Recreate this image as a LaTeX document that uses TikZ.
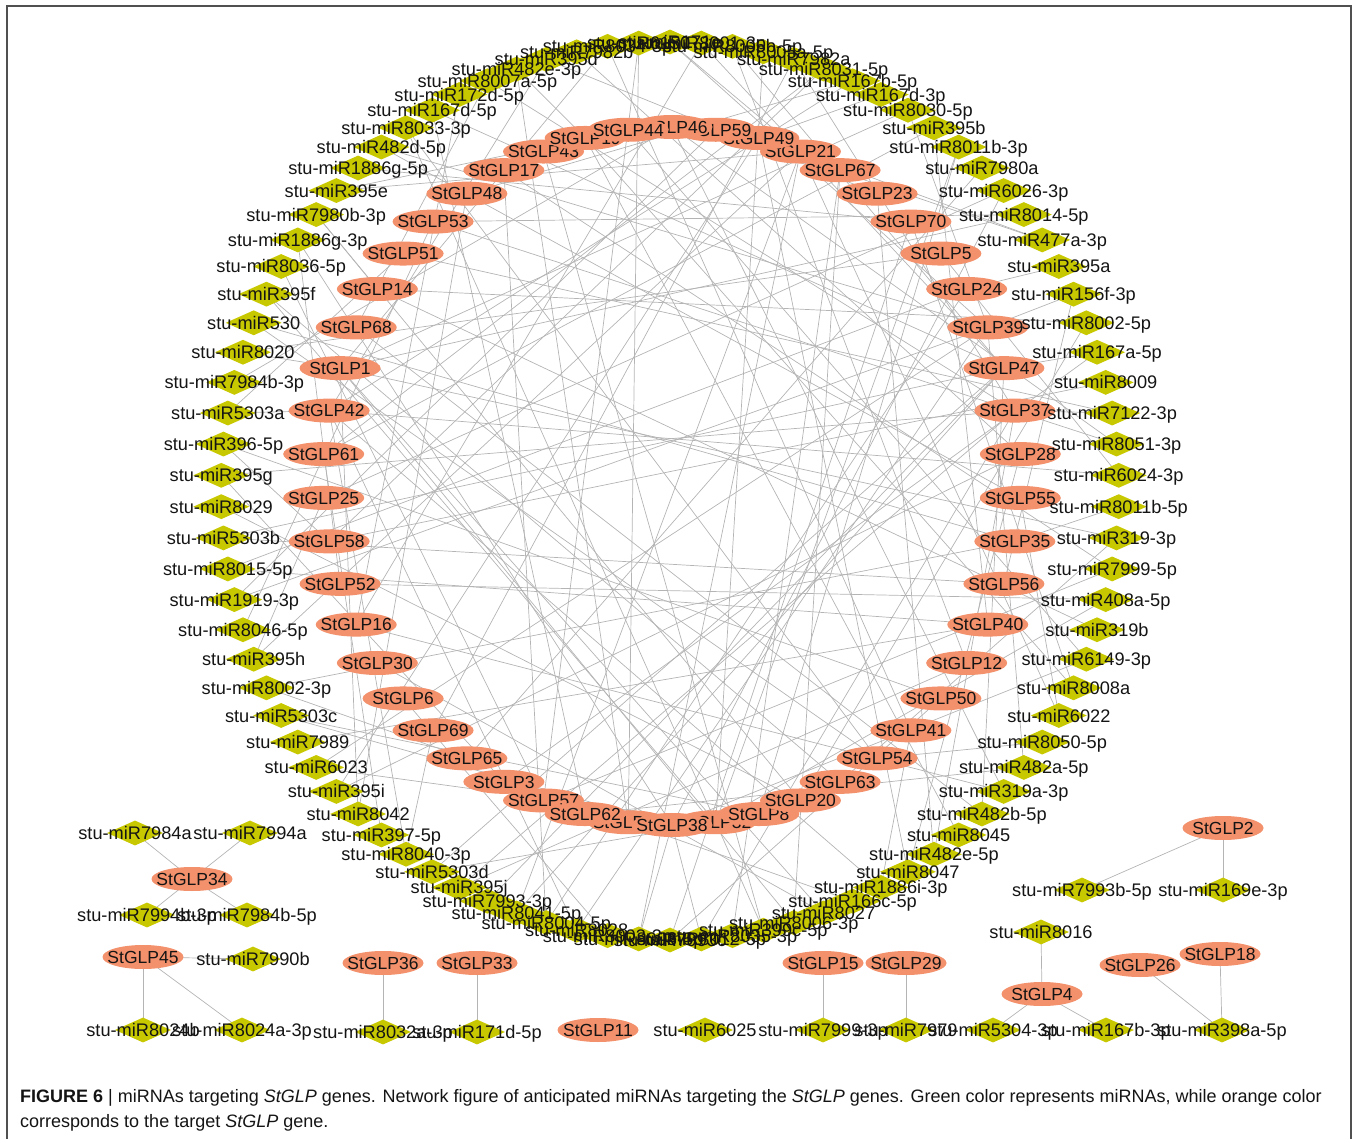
\documentclass[tikz,border=0pt]{standalone}
\usepackage{fontspec}
\setmainfont{Liberation Sans}
\usetikzlibrary{shapes.geometric}
\pgfdeclarelayer{bg}
\pgfsetlayers{bg,main}
\definecolor{mirc}{RGB}{200,200,0}
\definecolor{glpc}{RGB}{243,145,108}
\definecolor{edgec}{RGB}{180,180,180}
\definecolor{framec}{RGB}{80,80,80}
\definecolor{txtc}{RGB}{20,20,20}
\newcommand\glpname[1]{\makebox[0pt]{StGLP#1}}
\tikzset{
  glp/.style={ellipse, fill=glpc, draw=none, minimum width=81pt, minimum height=24pt,
    inner sep=0pt, outer sep=0pt, text height=12.6pt, text depth=0pt, text=txtc,
    font=\fontsize{17.5}{18}\selectfont},
  mir/.style={diamond, fill=mirc, draw=none, minimum width=56pt, minimum height=25pt, inner sep=0pt},
  mirlab/.style={inner sep=0pt, text height=13pt, text depth=0pt, text=txtc,
    font=\fontsize{18.2}{19}\selectfont},
  link/.style={draw=edgec, line width=0.7pt},
  captext/.style={anchor=base west, inner sep=0pt, text=txtc, font=\fontsize{18}{20}\selectfont}
}
\def\glplist{3/21, 2/49, 1/59, 0/46, 4/67, 5/23, 6/70, 7/5, 8/24, 9/39, 10/47, 11/37, 12/28, 13/55, 14/35, 15/56, 16/40, 17/12, 18/50, 19/41, 20/54, 21/63, 24/32, 23/8, 22/20, 26/64, 28/57, 27/62, 25/38, 29/3, 30/65, 31/69, 32/6, 33/30, 34/16, 35/52, 36/58, 37/25, 38/61, 39/42, 40/1, 41/68, 42/14, 43/51, 44/53, 45/48, 46/17, 47/43, 48/19, 49/44}
\def\mirlist{0/stu-miR171e, 1/stu-miR8001-3p, 2/stu-miR8005b-5p, 3/stu-miR8005a-5p, 4/stu-miR7982a, 5/stu-miR8031-5p, 6/stu-miR167b-5p, 7/stu-miR167d-3p, 8/stu-miR8030-5p, 9/stu-miR395b, 10/stu-miR8011b-3p, 11/stu-miR7980a, 12/stu-miR6026-3p, 13/stu-miR8014-5p, 14/stu-miR477a-3p, 15/stu-miR395a, 16/stu-miR156f-3p, 17/stu-miR8002-5p, 18/stu-miR167a-5p, 19/stu-miR8009, 20/stu-miR7122-3p, 21/stu-miR8051-3p, 22/stu-miR6024-3p, 23/stu-miR8011b-5p, 24/stu-miR319-3p, 25/stu-miR7999-5p, 26/stu-miR408a-5p, 27/stu-miR319b, 28/stu-miR6149-3p, 29/stu-miR8008a, 30/stu-miR6022, 31/stu-miR8050-5p, 32/stu-miR482a-5p, 33/stu-miR319a-3p, 34/stu-miR482b-5p, 35/stu-miR8045, 36/stu-miR482e-5p, 37/stu-miR8047, 38/stu-miR1886i-3p, 39/stu-miR166c-5p, 40/stu-miR8027, 41/stu-miR8006-3p, 42/stu-miR399c-5p, 43/stu-miR8035-3p, 44/stu-miR8012-5p, 45/stu-miR7993c, 46/stu-miR8003-5p, 47/stu-miR8003-3p, 48/stu-miR8028, 49/stu-miR8004-5p, 50/stu-miR8041-5p, 51/stu-miR7993-3p, 52/stu-miR395j, 53/stu-miR5303d, 54/stu-miR8040-3p, 55/stu-miR397-5p, 56/stu-miR8042, 57/stu-miR395i, 58/stu-miR6023, 59/stu-miR7989, 60/stu-miR5303c, 61/stu-miR8002-3p, 62/stu-miR395h, 63/stu-miR8046-5p, 64/stu-miR1919-3p, 65/stu-miR8015-5p, 66/stu-miR5303b, 67/stu-miR8029, 68/stu-miR395g, 69/stu-miR396-5p, 70/stu-miR5303a, 71/stu-miR7984b-3p, 72/stu-miR8020, 73/stu-miR530, 74/stu-miR395f, 75/stu-miR8036-5p, 76/stu-miR1886g-3p, 77/stu-miR7980b-3p, 78/stu-miR395e, 79/stu-miR1886g-5p, 80/stu-miR482d-5p, 81/stu-miR8033-3p, 82/stu-miR167d-5p, 83/stu-miR172d-5p, 84/stu-miR8007a-5p, 85/stu-miR482e-3p, 86/stu-miR395d, 87/stu-miR7982b, 88/stu-miR8034-3p, 89/stu-miR6150}
\def\smalllist{b1/135/833/stu-miR7984a, b2/250/833/stu-miR7994a, b3/147/915/stu-miR7994b-3p, b4/247/915/stu-miR7984b-5p, b5/253/959/stu-miR7990b, b6/143/1030/stu-miR8024b, b7/242/1030/stu-miR8024a-3p, b8/383/1032/stu-miR8032a-3p, b9/477/1032/stu-miR171d-5p, b10/705/1030/stu-miR6025, b11/823/1030/stu-miR7999-3p, b12/906/1030/stu-miR7979, b13/1041/932/stu-miR8016, b14/993/1030/stu-miR5304-3p, b15/1106/1030/stu-miR167b-3p, b16/1222/1030/stu-miR398a-5p, b17/1082/890/stu-miR7993b-5p, b18/1223/890/stu-miR169e-3p}
\begin{document}
\begin{tikzpicture}[x=1pt,y=-1pt]
\useasboundingbox (0,0) rectangle (1358,1139);
\draw[framec, line width=1.2pt] (7,1139) -- (7,6) -- (1351,6) -- (1351,1139);

% inner ring of StGLP genes
\foreach \k/\n in \glplist {
  \node[glp] (g\k) at ({672+349*sin(\k*7.2)},{476-349*cos(\k*7.2)}) {\glpname{\n}};
}
% separate StGLP genes
\node[glp] (G34) at (192,879) {\glpname{34}};
\node[glp] (G45) at (143,957) {\glpname{45}};
\node[glp] (G36) at (383,963) {\glpname{36}};
\node[glp] (G33) at (477,963) {\glpname{33}};
\node[glp] (G11) at (598,1030) {\glpname{11}};
\node[glp] (G15) at (823,963) {\glpname{15}};
\node[glp] (G29) at (906,963) {\glpname{29}};
\node[glp] (G4) at (1042,994) {\glpname{4}};
\node[glp] (G26) at (1140,965) {\glpname{26}};
\node[glp] (G18) at (1220,954) {\glpname{18}};
\node[glp] (G2) at (1223,828) {\glpname{2}};

% outer ring of miRNAs
\foreach \i/\n in \mirlist {
  \node[mir] (m\i) at ({670+449*sin(\i*4)},{491-449*cos(\i*4)}) {};
}
\foreach \b/\x/\y/\n in \smalllist {
  \node[mir] (\b) at (\x,\y) {};
}
\foreach \i/\n in \mirlist {
  \node[mirlab] (ml\i) at (m\i.center) {\n};
}
\foreach \b/\x/\y/\n in \smalllist {
  \node[mirlab] (\b l) at (\b.center) {\n};
}

% connectors
\begin{pgfonlayer}{bg}
\foreach \i in {0,...,89} {
  \pgfmathtruncatemacro\ja{mod(7*\i+3,50)}
  \draw[link] (m\i.center) -- (g\ja.center);
  \pgfmathtruncatemacro\rr{mod(\i,2)}
  \ifnum\rr=0
    \pgfmathtruncatemacro\hh{mod(\i/2,8)}
    \edef\jb{\ifcase\hh\space 9\or 10\or 11\or 39\or 40\or 24\or 25\or 3\fi}
    \draw[link] (m\i.center) -- (g\jb.center);
  \fi
  \pgfmathtruncatemacro\qq{mod(\i,4)}
  \ifnum\qq=1
    \pgfmathtruncatemacro\jc{mod(13*\i+21,50)}
    \draw[link] (m\i.center) -- (g\jc.center);
  \fi
}
\draw[link] (b1.center) -- (G34.center);
\draw[link] (b2.center) -- (G34.center);
\draw[link] (b3.center) -- (G34.center);
\draw[link] (b4.center) -- (G34.center);
\draw[link] (G45.center) -- (b5.center);
\draw[link] (G45.center) -- (b6.center);
\draw[link] (G45.center) -- (b7.center);
\draw[link] (G36.center) -- (b8.center);
\draw[link] (G33.center) -- (b9.center);
\draw[link] (G15.center) -- (b11.center);
\draw[link] (G29.center) -- (b12.center);
\draw[link] (b13.center) -- (G4.center);
\draw[link] (G4.center) -- (b14.center);
\draw[link] (G4.center) -- (b15.center);
\draw[link] (G26.center) -- (b16.center);
\draw[link] (G18.center) -- (b16.center);
\draw[link] (G2.center) -- (b17.center);
\draw[link] (G2.center) -- (b18.center);
\end{pgfonlayer}

% caption
\node[captext] (cap1) at (20,1102) {\textbf{FIGURE 6} | miRNAs targeting \textit{StGLP} genes. Network figure of anticipated miRNAs targeting the \textit{StGLP} genes. Green color represents miRNAs, while orange color};
\node[captext] (cap2) at (20,1127) {corresponds to the target \textit{StGLP} gene.};
\end{tikzpicture}
\end{document}
